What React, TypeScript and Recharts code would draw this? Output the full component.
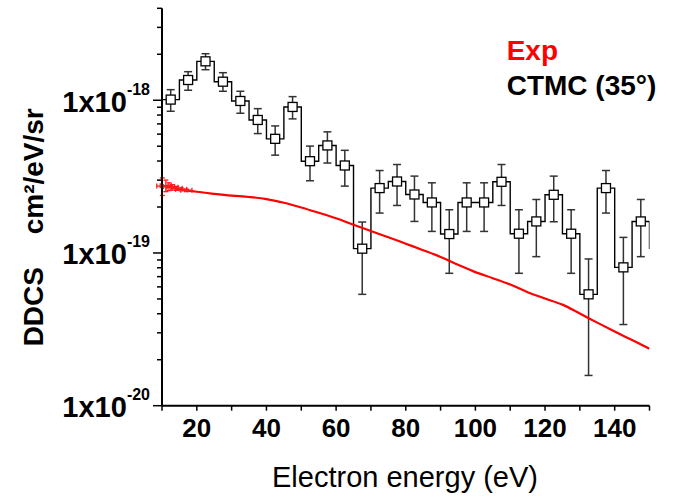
import { ComposedChart, Line, Scatter, XAxis, YAxis, ErrorBar } from "recharts"

const FONT = '"Liberation Sans", Arial, Helvetica, sans-serif'

// CTMC (35°) histogram, 5 eV bins: bin centres, values and error limits
const ctmcEnergy = [
  12.5, 17.5, 22.5, 27.5, 32.5, 37.5, 42.5, 47.5, 52.5, 57.5, 62.5, 67.5, 72.5, 77.5,
  82.5, 87.5, 92.5, 97.5, 102.5, 107.5, 112.5, 117.5, 122.5, 127.5, 132.5, 137.5, 142.5, 147.5,
]
const ctmcValue = [
  1.01e-18, 1.357e-18, 1.798e-18, 1.323e-18, 9.89e-19, 7.43e-19, 5.59e-19, 9.04e-19,
  3.99e-19, 5.06e-19, 3.74e-19, 1.067e-19, 2.66e-19, 2.938e-19, 2.415e-19, 2.142e-19,
  1.33e-19, 2.142e-19, 2.142e-19, 2.924e-19, 1.337e-19, 1.609e-19, 2.404e-19, 1.337e-19,
  5.36e-20, 2.66e-19, 8.05e-20, 1.609e-19,
]
const ctmcLow = [
  8.47e-19, 1.163e-18, 1.585e-18, 1.145e-18, 8.22e-19, 6.05e-19, 4.37e-19, 7.55e-19,
  2.97e-19, 3.88e-19, 2.74e-19, 5.36e-20, 1.825e-19, 2.047e-19, 1.609e-19, 1.384e-19,
  7.36e-20, 1.384e-19, 1.384e-19, 2.047e-19, 7.36e-20, 9.46e-20, 1.601e-19, 7.36e-20,
  1.578e-20, 1.825e-19, 3.4e-20, 9.46e-20,
]
const ctmcHigh = [
  1.173e-18, 1.538e-18, 2.017e-18, 1.515e-18, 1.145e-18, 8.81e-19, 6.79e-19, 1.056e-18,
  5.01e-19, 6.21e-19, 4.7e-19, 1.594e-19, 3.466e-19, 3.795e-19, 3.186e-19, 2.88e-19,
  1.919e-19, 2.88e-19, 2.88e-19, 3.795e-19, 1.919e-19, 2.24e-19, 3.186e-19, 1.919e-19,
  9.14e-20, 3.466e-19, 1.265e-19, 2.24e-19,
]
// next bin (150-155 eV), only its rising edge at 150 is inside the frame
const ctmcTail = 1.062e-19
const binWidth = 5

// experiment
const expEnergy = [
  10, 15, 20, 25, 30, 35, 40, 45, 50, 55, 60, 65, 70, 75, 80, 85, 90, 95, 100, 105, 110,
  115, 120, 125, 130, 135, 140, 145, 150,
]
const expValue = [
  2.76e-19, 2.62e-19, 2.516e-19, 2.44e-19, 2.375e-19, 2.326e-19, 2.254e-19, 2.132e-19,
  1.986e-19, 1.834e-19, 1.688e-19, 1.531e-19, 1.392e-19, 1.268e-19, 1.15e-19, 1.043e-19,
  9.42e-20, 8.38e-20, 7.49e-20, 6.84e-20, 6.21e-20, 5.54e-20, 5.03e-20, 4.59e-20,
  4.01e-20, 3.5e-20, 3.06e-20, 2.69e-20, 2.357e-20,
]
// low-energy experimental points that show their error bars
const expErrEnergy = [10.1, 11.1, 12.0, 13.0, 14.2, 15.5, 17]
const expErrValue = [2.74e-19, 2.76e-19, 2.72e-19, 2.69e-19, 2.65e-19, 2.61e-19, 2.57e-19]
const expErrDy = [0.36e-19, 0.24e-19, 0.16e-19, 0.11e-19, 0.08e-19, 0.06e-19, 0.05e-19]
const expErrDx = 1.6

const xTicks = [10, 20, 30, 40, 50, 60, 70, 80, 90, 100, 110, 120, 130, 140, 150]
const xLabels = [20, 40, 60, 80, 100, 120, 140]
const yTicks = [
  1e-20, 2e-20, 3e-20, 4e-20, 5e-20, 6e-20, 7e-20, 8e-20, 9e-20,
  1e-19, 2e-19, 3e-19, 4e-19, 5e-19, 6e-19, 7e-19, 8e-19, 9e-19,
  1e-18, 2e-18, 3e-18, 4e-18,
]

const stepData = [
  ...ctmcEnergy.map((e, i) => ({ x: e - binWidth / 2, y: ctmcValue[i] })),
  { x: 150, y: ctmcTail },
]
const ctmcPoints = ctmcEnergy.map((e, i) => ({
  x: e,
  y: ctmcValue[i],
  err: [ctmcValue[i] - ctmcLow[i], ctmcHigh[i] - ctmcValue[i]],
}))
const expLine = expEnergy.map((e, i) => ({ x: e, y: expValue[i] }))
const expPoints = expErrEnergy.map((e, i) => ({
  x: e,
  y: expErrValue[i],
  dy: expErrDy[i],
  dx: expErrDx,
}))

function XTick({ x, y, payload }: any) {
  const v = payload.value
  return (
    <g>
      <line x1={x} x2={x} y1={y} y2={y + 5} stroke="#000" strokeWidth={1.5} />
      {xLabels.includes(v) && (
        <text
          x={x}
          y={y + 31.5}
          textAnchor="middle"
          fontFamily={FONT}
          fontWeight="bold"
          fontSize={26}
          fill="#000"
        >
          {v}
        </text>
      )}
    </g>
  )
}

function YTick({ x, y, payload }: any) {
  const v = payload.value
  const exp = Math.round(Math.log10(v))
  const major = Math.abs(v / Math.pow(10, exp) - 1) < 1e-6
  return (
    <g>
      <line x1={x - (major ? 9 : 5)} x2={x} y1={y} y2={y} stroke="#000" strokeWidth={1.5} />
      {major && (
        <text
          x={x - 12}
          y={y + 11.5}
          textAnchor="end"
          fontFamily={FONT}
          fontWeight="bold"
          fontSize={29}
          fill="#000"
        >
          1x10
          <tspan dy={-17} fontSize={16}>
            {exp}
          </tspan>
        </text>
      )}
    </g>
  )
}

const square = (p: any) => (
  <rect x={p.cx - 4.5} y={p.cy - 4.5} width={9} height={9} fill="#fff" stroke="#000" strokeWidth={1.3} />
)

export default function App() {
  return (
    <div style={{ position: "absolute", left: 0, top: 0, width: 673, height: 497, background: "#fff" }}>
      <ComposedChart
        width={673}
        height={497}
        margin={{ top: 8.3, right: 23.5, bottom: 61.3, left: 0 }}
      >
        <XAxis
          type="number"
          dataKey="x"
          domain={[10, 150]}
          ticks={xTicks}
          interval={0}
          allowDataOverflow
          tickSize={0}
          tickMargin={0}
          height={30}
          tick={XTick}
          axisLine={{ stroke: "#000", strokeWidth: 2 }}
        />
        <YAxis
          type="number"
          dataKey="y"
          scale="log"
          domain={[1e-20, 4e-18]}
          ticks={yTicks}
          interval={0}
          allowDataOverflow
          width={162}
          tickSize={0}
          tickMargin={0}
          tick={YTick}
          axisLine={{ stroke: "#000", strokeWidth: 2 }}
        />
        <Line
          data={stepData}
          dataKey="y"
          type="stepAfter"
          stroke="#000"
          strokeWidth={1.4}
          dot={false}
          activeDot={false}
          isAnimationActive={false}
        />
        <Scatter data={ctmcPoints} dataKey="y" shape={square} isAnimationActive={false}>
          <ErrorBar dataKey="err" direction="y" width={4} stroke="#333" strokeWidth={1.5} />
        </Scatter>
        <Line
          data={expLine}
          dataKey="y"
          type="monotone"
          stroke="#ff0000"
          strokeWidth={2.2}
          dot={false}
          activeDot={false}
          isAnimationActive={false}
        />
        <Scatter data={expPoints} dataKey="y" shape={() => <g />} isAnimationActive={false}>
          <ErrorBar dataKey="dy" direction="y" width={2.5} stroke="#ff1a1a" strokeWidth={1.3} />
          <ErrorBar dataKey="dx" direction="x" width={2.5} stroke="#ff1a1a" strokeWidth={1.3} />
        </Scatter>
      </ComposedChart>
      <svg
        width={673}
        height={497}
        style={{ position: "absolute", left: 0, top: 0, pointerEvents: "none" }}
        fontFamily={FONT}
      >
        <text x={506.7} y={60} fontSize={28} fontWeight="bold" fill="#ff0000">
          Exp
        </text>
        <text x={506.7} y={95} fontSize={28} fontWeight="bold" fill="#000">
          CTMC (35°)
        </text>
        <text
          transform="translate(43,306.7) rotate(-90)"
          textAnchor="middle"
          fontSize={28}
          fontWeight="bold"
          fill="#000"
        >
          DDCS
        </text>
        <text
          transform="translate(43,171.3) rotate(-90)"
          textAnchor="middle"
          fontSize={28}
          fontWeight="bold"
          fill="#000"
        >
          cm²/eV/sr
        </text>
        <text x={405} y={487} textAnchor="middle" fontSize={29} fill="#000">
          Electron energy (eV)
        </text>
      </svg>
    </div>
  )
}
